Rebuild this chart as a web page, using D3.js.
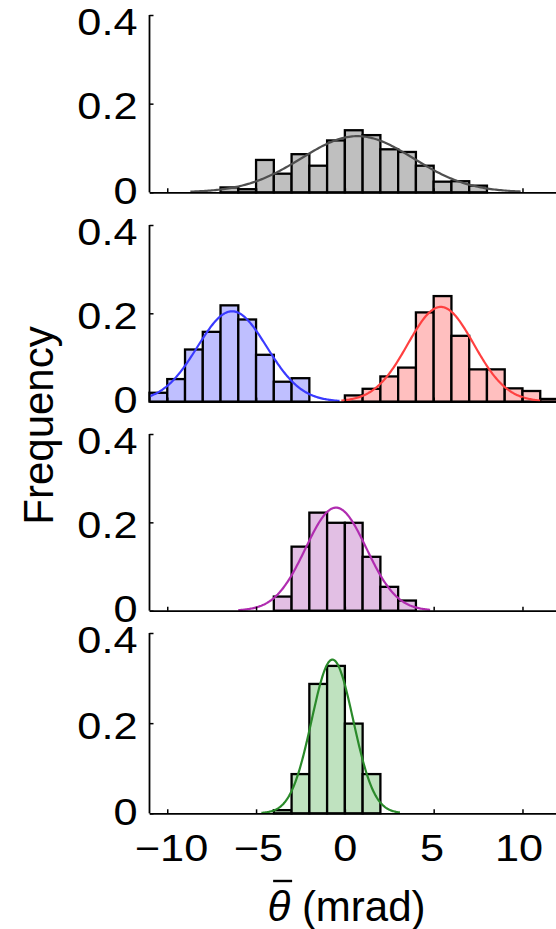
<!DOCTYPE html>
<html>
<head>
<meta charset="utf-8">
<script src="https://cdn.jsdelivr.net/npm/d3@7"></script>
<style>
  html, body { margin: 0; padding: 0; background: #fff; }
  svg { display: block; }
  text { font-family: "Liberation Sans", Arial, Helvetica, sans-serif; fill: #000; }
</style>
</head>
<body>
<svg id="chart" width="556" height="929"></svg>
<script>
// Histogram bins (left edges, width 1 mrad) and relative frequencies
const binWidth = 1;

const grayBins = [-7, -6, -5, -4, -3, -2, -1, 0, 1, 2, 3, 4, 5, 6, 7];
const grayFreq = [0.011, 0.007, 0.073, 0.042, 0.086, 0.060, 0.117, 0.140, 0.129, 0.097, 0.091, 0.060, 0.024, 0.025, 0.015];

const blueBins = [-11, -10, -9, -8, -7, -6, -5, -4, -3];
const blueFreq = [0.020, 0.051, 0.118, 0.158, 0.218, 0.186, 0.106, 0.045, 0.053];

const redBins = [0, 1, 2, 3, 4, 5, 6, 7, 8, 9, 10, 11];
const redFreq = [0.014, 0.029, 0.057, 0.077, 0.202, 0.239, 0.149, 0.073, 0.073, 0.030, 0.024, 0.006];

const purpleBins = [-4, -3, -2, -1, 0, 1, 2, 3];
const purpleFreq = [0.032, 0.145, 0.222, 0.199, 0.199, 0.122, 0.054, 0.023];

const greenBins = [-4, -3, -2, -1, 0, 1];
const greenFreq = [0.007, 0.087, 0.287, 0.327, 0.199, 0.087];

// Normal fits: mean, standard deviation and plotted span (mrad)
const fitMean  = { gray: 0.7,  blue: -6.35, red: 5.4,  purple: -0.5, green: -0.7 };
const fitSigma = { gray: 3.15, blue: 1.95,  red: 1.86, purple: 1.71, green: 1.17 };
const fitFrom  = { gray: -8.7, blue: -11,   red: -0.2, purple: -6.0, green: -4.7 };
const fitTo    = { gray: 9.9,  blue: -0.3,  red: 11.0, purple: 4.8,  green: 3.1 };

// Axis ticks and labels
const xTicks = [-10, -5, 0, 5, 10];
const xTickLabels = ["\u221210", "\u22125", "0", "5", "10"];
const yTicks = [0, 0.2, 0.4];
const yTickLabels = ["0", "0.2", "0.4"];
const xTitle = "(mrad)";
const xSymbol = "\u03b8";
const yTitle = "Frequency";

const fillColor  = { gray: "#bfbfbf", blue: "#bfbfff", red: "#ffbfbf", purple: "#e2bfe4", green: "#bfe2bf" };
const curveColor = { gray: "#4f4f4f", blue: "#3a3aff", red: "#ff4040", purple: "#b02cb0", green: "#2a8a2a" };

const panels = [
  { top: 15,  bottom: 192.3, series: [{ key: "gray", bins: grayBins, freq: grayFreq }] },
  { top: 225, bottom: 401.6, series: [{ key: "blue", bins: blueBins, freq: blueFreq },
                                     { key: "red",  bins: redBins,  freq: redFreq }] },
  { top: 434, bottom: 610.7, series: [{ key: "purple", bins: purpleBins, freq: purpleFreq }] },
  { top: 633, bottom: 813.3, series: [{ key: "green", bins: greenBins, freq: greenFreq }] }
];

const svg = d3.select("#chart");
const xDomain = [-11, 12];
const x = d3.scaleLinear().domain(xDomain).range([149.5, 558]);
const tickFont = 37;
const tickStretch = 1.17;   // tick numerals are set slightly wide

function normalPdf(v, m, s) {
  return Math.exp(-0.5 * ((v - m) / s) ** 2) / (s * Math.sqrt(2 * Math.PI));
}

panels.forEach((p, i) => {
  const y = d3.scaleLinear().domain([0, 0.4]).range([p.bottom, p.top]);
  const g = svg.append("g");

  p.series.forEach(s => {
    // bars
    g.append("g").selectAll("rect")
      .data(s.bins.map((b, j) => ({ b, f: s.freq[j] })))
      .join("rect")
      .attr("x", d => x(d.b))
      .attr("width", d => x(d.b + binWidth) - x(d.b))
      .attr("y", d => y(d.f))
      .attr("height", d => y(0) - y(d.f))
      .attr("fill", fillColor[s.key])
      .attr("stroke", "#000")
      .attr("stroke-width", 2.3);
  });

  p.series.forEach(s => {
    // fitted normal curve over its plotted span
    const m = fitMean[s.key], sd = fitSigma[s.key];
    const lo = fitFrom[s.key], hi = fitTo[s.key];
    const pts = d3.range(0, 201).map(k => lo + (hi - lo) * k / 200);
    g.append("path")
      .datum(pts)
      .attr("fill", "none")
      .attr("stroke", curveColor[s.key])
      .attr("stroke-width", 2.2)
      .attr("d", d3.line().x(v => x(v)).y(v => y(normalPdf(v, m, sd))));
  });

  // y axis (inward ticks)
  const yLabelPos = d3.scaleLinear().domain([0, 0.4]).range([p.bottom - 1, p.top + 8]);
  const yAxis = g.append("g")
    .attr("transform", `translate(${x(xDomain[0])},0)`)
    .call(d3.axisLeft(y).tickValues(yTicks).tickSize(-4).tickPadding(12)
      .tickFormat((d, k) => yTickLabels[k]));
  yAxis.select(".domain").attr("stroke-width", 1.8).attr("d", `M0,${p.top}V${p.bottom}`);
  yAxis.selectAll(".tick line").attr("stroke-width", 1.5);
  yAxis.selectAll(".tick text")
    .attr("x", 0)
    .attr("transform", `translate(-12,0) scale(${tickStretch},1)`)
    .attr("y", d => yLabelPos(d) - y(d))
    .style("font-size", tickFont + "px")
    .style("font-family", '"Liberation Sans", Arial, Helvetica, sans-serif');

  // x axis (inward ticks)
  const xAxis = g.append("g")
    .attr("transform", `translate(0,${p.bottom})`)
    .call(d3.axisBottom(x).tickValues(xTicks).tickSize(-4).tickSizeOuter(0)
      .tickFormat((d, k) => (i === panels.length - 1 ? xTickLabels[k] : "")));
  xAxis.select(".domain").attr("stroke-width", 1.8);
  xAxis.selectAll(".tick line").attr("stroke-width", 1.5);
  if (i === panels.length - 1) {
    const xLabelPos = d3.scaleLinear().domain([-10, 10]).range([171, 518.5]);
    xAxis.selectAll(".tick text")
      .attr("x", 0)
      .attr("transform", d => `translate(${xLabelPos(d) - x(d)},0) scale(${tickStretch},1)`)
      .attr("y", 861 - p.bottom)
      .attr("dy", null)
      .style("font-size", tickFont + "px")
      .style("font-family", '"Liberation Sans", Arial, Helvetica, sans-serif');
  }
});

// y axis title
svg.append("text")
  .attr("transform", "translate(53,425.5) rotate(-90)")
  .attr("text-anchor", "middle")
  .style("font-size", "42px")
  .text(yTitle);

// x axis title: theta with overbar, then units
const xt = svg.append("text")
  .attr("x", 346.5)
  .attr("y", 921)
  .attr("text-anchor", "middle")
  .style("font-size", "42px");
xt.append("tspan").style("font-style", "italic").text(xSymbol);
xt.append("tspan").text(" " + xTitle);

const symBox = xt.node().getExtentOfChar(0);
svg.append("line")
  .attr("x1", symBox.x + symBox.width * 0.25)
  .attr("x2", symBox.x + symBox.width * 0.25 + 19)
  .attr("y1", 881).attr("y2", 881)
  .attr("stroke", "#000")
  .attr("stroke-width", 2.4);
</script>
</body>
</html>
